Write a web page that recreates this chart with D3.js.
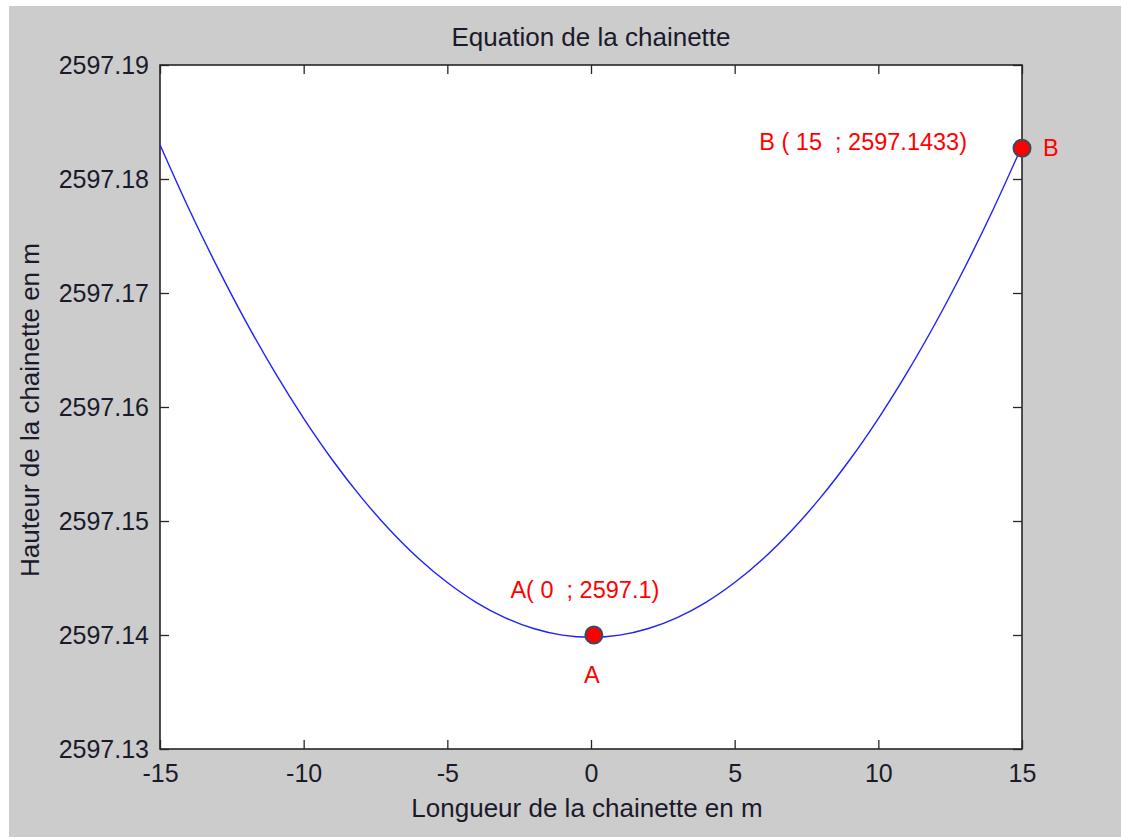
<!DOCTYPE html>
<html><head><meta charset="utf-8">
<script src="https://cdn.jsdelivr.net/npm/d3@7"></script>
<style>
html,body{margin:0;padding:0;background:#fff;}
svg{display:block;}
text{font-family:"Liberation Sans",Arial,sans-serif;}
.red{white-space:pre;}
</style></head>
<body>
<script>
// Data
const xValues = [-15,-14,-13,-12,-11,-10,-9,-8,-7,-6,-5,-4,-3,-2,-1,0,1,2,3,4,5,6,7,8,9,10,11,12,13,14,15];
const yValues = [2597.18300,2597.17741,2597.17225,2597.16745,2597.16303,2597.15900,2597.15535,2597.15209,2597.14921,2597.14671,2597.14460,2597.14287,2597.14153,2597.14057,2597.13999,2597.13980,2597.13999,2597.14057,2597.14153,2597.14287,2597.14460,2597.14671,2597.14921,2597.15209,2597.15535,2597.15899,2597.16301,2597.16741,2597.17219,2597.17735,2597.18290];
const xTicks = [-15,-10,-5,0,5,10,15];
const yTicks = [2597.13,2597.14,2597.15,2597.16,2597.17,2597.18,2597.19];
const pointNames = ["A","B"];
const pointX = [0.1, 15];
const pointY = [2597.1400, 2597.1827];
const pointLabels = ["A( 0  ; 2597.1)", "B ( 15  ; 2597.1433)"];
const titleText = "Equation de la chainette";
const xLabelText = "Longueur de la chainette en m";
const yLabelText = "Hauteur de la chainette en m";

const W = 1121, H = 838;
const L = 160, R = 1022, T = 65, B = 749;

const svg = d3.select("body").append("svg").attr("width", W).attr("height", H);
svg.append("rect").attr("x", 9).attr("y", 6).attr("width", W - 9).attr("height", H - 7).attr("fill", "#cccccc");
svg.append("rect").attr("x", L).attr("y", T).attr("width", R - L).attr("height", B - T).attr("fill", "#ffffff");

const x = d3.scaleLinear().domain([-15, 15]).range([L, R]);
const y = d3.scaleLinear().domain([2597.13, 2597.19]).range([B, T]);

const tickLen = 9;
const axisColor = "#262626";
const textColor = "#1a1a2a";
const fmtY = d3.format(".2f");

function styleAxis(g, hideText) {
  g.select(".domain").remove();
  g.selectAll(".tick line").attr("stroke", axisColor).attr("stroke-width", 1.3);
  g.selectAll(".tick text").attr("fill", textColor).attr("font-size", 25)
    .attr("font-family", "'Liberation Sans', Arial, sans-serif");
  if (hideText) g.selectAll(".tick text").remove();
}

// bottom
svg.append("g").attr("transform", `translate(0,${B})`)
  .call(d3.axisBottom(x).tickValues(xTicks).tickSizeInner(-tickLen).tickSizeOuter(0).tickPadding(15).tickFormat(d => String(d)))
  .call(g => styleAxis(g, false))
  .call(g => g.selectAll(".tick text").attr("dy", "0.71em"));
// top
svg.append("g").attr("transform", `translate(0,${T})`)
  .call(d3.axisTop(x).tickValues(xTicks).tickSizeInner(-tickLen).tickSizeOuter(0))
  .call(g => styleAxis(g, true));
// left
svg.append("g").attr("transform", `translate(${L},0)`)
  .call(d3.axisLeft(y).tickValues(yTicks).tickSizeInner(-tickLen).tickSizeOuter(0).tickPadding(11).tickFormat(fmtY))
  .call(g => styleAxis(g, false));
// right
svg.append("g").attr("transform", `translate(${R},0)`)
  .call(d3.axisRight(y).tickValues(yTicks).tickSizeInner(-tickLen).tickSizeOuter(0))
  .call(g => styleAxis(g, true));

// box
svg.append("rect").attr("x", L).attr("y", T).attr("width", R - L).attr("height", B - T)
  .attr("fill", "none").attr("stroke", axisColor).attr("stroke-width", 1.6);

// curve
const data = xValues.map((v, i) => ({x: v, y: yValues[i]}));
const line = d3.line().x(d => x(d.x)).y(d => y(d.y)).curve(d3.curveCatmullRom.alpha(0.5));
svg.append("path").datum(data).attr("d", line).attr("fill", "none")
  .attr("stroke", "#1f1fff").attr("stroke-width", 1.4);

// points
const pts = pointNames.map((n, i) => ({n, x: pointX[i], y: pointY[i], lab: pointLabels[i]}));
svg.selectAll("circle.pt").data(pts).enter().append("circle")
  .attr("cx", d => x(d.x)).attr("cy", d => y(d.y)).attr("r", 8.5)
  .attr("fill", "#ff0000").attr("stroke", "#3c4a5e").attr("stroke-width", 2);

const redFont = "'Open Sans','Noto Sans',sans-serif";
const redSize = 23.5;
// A labels
svg.append("text").attr("class", "red").attr("x", x(pointX[0]) - 9).attr("y", y(pointY[0]) - 37)
  .attr("text-anchor", "middle").attr("fill", "#ff0000").attr("font-size", redSize)
  .attr("font-family", redFont).text(pointLabels[0]);
svg.append("text").attr("class", "red").attr("x", x(pointX[0]) - 2).attr("y", y(pointY[0]) + 48)
  .attr("text-anchor", "middle").attr("fill", "#ff0000").attr("font-size", redSize)
  .attr("font-family", redFont).text(pointNames[0]);
// B labels
svg.append("text").attr("class", "red").attr("x", x(pointX[1]) - 55).attr("y", y(pointY[1]) + 2)
  .attr("text-anchor", "end").attr("fill", "#ff0000").attr("font-size", redSize)
  .attr("font-family", redFont).text(pointLabels[1]);
svg.append("text").attr("class", "red").attr("x", x(pointX[1]) + 21).attr("y", y(pointY[1]) + 8)
  .attr("text-anchor", "start").attr("fill", "#ff0000").attr("font-size", redSize)
  .attr("font-family", redFont).text(pointNames[1]);

// title & axis labels
svg.append("text").attr("x", (L + R) / 2).attr("y", 46).attr("text-anchor", "middle")
  .attr("fill", textColor).attr("font-size", 26).text(titleText);
svg.append("text").attr("x", (L + R) / 2 - 4).attr("y", 817).attr("text-anchor", "middle")
  .attr("fill", textColor).attr("font-size", 26).text(xLabelText);
svg.append("text").attr("transform", `translate(39,${(T + B) / 2 + 3}) rotate(-90)`)
  .attr("text-anchor", "middle").attr("fill", textColor).attr("font-size", 26).text(yLabelText);
</script>
</body></html>
